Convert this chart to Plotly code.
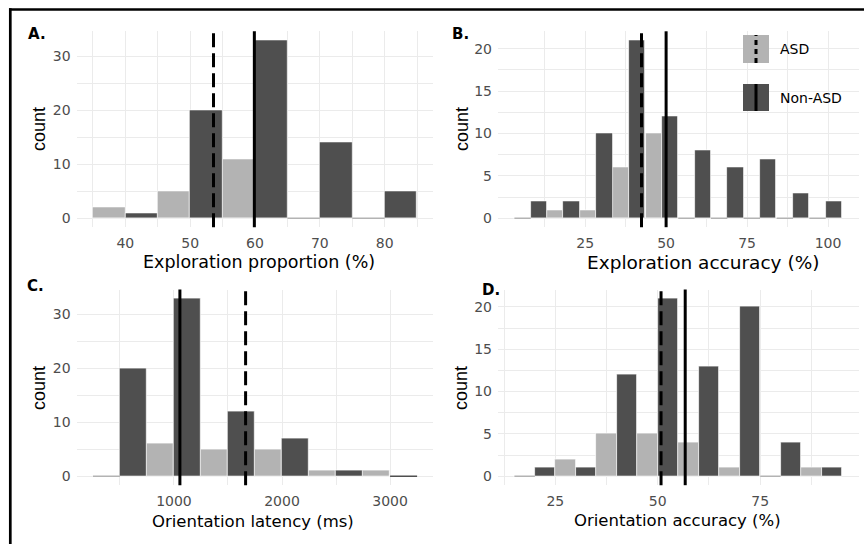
import plotly.graph_objects as go

W, H = 864, 544
FONT_H = "DejaVu Sans"
FONT_V = "Liberation Sans"
ASD_COLOR = "#B3B3B3"
NON_COLOR = "#4F4F4F"
GRID = "#EBEBEB"
TICK_COLOR = "#4D4D4D"

# ---------------- data ----------------
groups = ["ASD", "Non-ASD"]

A_centers = [40, 50, 60, 70, 80]
A_width = 10
A_asd = [2, 5, 11, 0, 0]
A_non = [1, 20, 33, 14, 5]
A_mean_asd = 53.6
A_mean_non = 59.9
A_xticks = [40, 50, 60, 70, 80]
A_xminor = [35, 45, 55, 65, 75, 85]
A_yticks = [0, 10, 20, 30]
A_yminor = [5, 15, 25]

B_centers = [8.2, 18.3, 28.4, 38.5, 48.7, 58.8, 68.9, 79.0, 89.2, 99.3]
B_width = 10.12
B_asd = [0, 1, 1, 6, 10, 0, 0, 0, 0, 0]
B_non = [2, 2, 10, 21, 12, 8, 6, 7, 3, 2]
B_mean_asd = 42.4
B_mean_non = 50.0
B_xticks = [25, 50, 75, 100]
B_xminor = [12.5, 37.5, 62.5, 87.5]
B_yticks = [0, 5, 10, 15, 20]
B_yminor = [2.5, 7.5, 12.5, 17.5]

C_centers = [500, 1000, 1500, 2000, 2500, 3000]
C_width = 500
C_asd = [0, 6, 5, 5, 1, 1]
C_non = [20, 33, 12, 7, 1, 0]
C_mean_asd = 1663
C_mean_non = 1055
C_xticks = [1000, 2000, 3000]
C_xminor = [500, 1500, 2500]
C_yticks = [0, 10, 20, 30]
C_yminor = [5, 15, 25]

D_centers = [20, 30, 40, 50, 60, 70, 80, 90]
D_width = 10
D_asd = [0, 2, 5, 5, 4, 1, 0, 1]
D_non = [1, 1, 12, 21, 13, 20, 4, 1]
D_mean_asd = 50.8
D_mean_non = 56.7
D_xticks = [25, 50, 75]
D_xminor = [12.5, 37.5, 62.5, 87.5]
D_yticks = [0, 5, 10, 15, 20]
D_yminor = [2.5, 7.5, 12.5, 17.5]

panel_labels = ["A.", "B.", "C.", "D."]
x_titles = ["Exploration proportion (%)", "Exploration accuracy (%)",
            "Orientation latency (ms)", "Orientation accuracy (%)"]
y_title = "count"

# ---------------- layout geometry (pixels) ----------------
def px(x):
    return x / W

def py(y):
    return 1 - y / H

XDOM = [(76.7, 433.3), (498.0, 858.5), (76.7, 433.3), (498.0, 858.5)]
YDOM = [(31.3, 227.2), (31.3, 227.2), (289.5, 485.2), (289.5, 485.2)]
LABEL_POS = [(28, 34), (452, 34), (27, 286), (482, 290)]
XTITLE_POS = [(259, 262), (703, 262), (253, 521), (677, 520)]
XTITLE_SIZE = [17.5, 18.5, 16.5, 16.5]
YTITLE_POS = [(39, 129), (462, 129), (39, 388), (461, 388)]

panels = [
    (A_centers, A_width, A_asd, A_non, A_mean_asd, A_mean_non, A_xticks, A_xminor, A_yticks, A_yminor),
    (B_centers, B_width, B_asd, B_non, B_mean_asd, B_mean_non, B_xticks, B_xminor, B_yticks, B_yminor),
    (C_centers, C_width, C_asd, C_non, C_mean_asd, C_mean_non, C_xticks, C_xminor, C_yticks, C_yminor),
    (D_centers, D_width, D_asd, D_non, D_mean_asd, D_mean_non, D_xticks, D_xminor, D_yticks, D_yminor),
]

fig = go.Figure()
shapes = []
annotations = []
layout_axes = {}

for i, (cen, w, asd, non, m_asd, m_non, xt, xm, yt, ym) in enumerate(panels):
    n = i + 1
    xa = "x" if n == 1 else f"x{n}"
    ya = "y" if n == 1 else f"y{n}"
    # dodged bars
    for vals, col, off in ((asd, ASD_COLOR, -0.25), (non, NON_COLOR, 0.25)):
        fig.add_trace(go.Bar(
            x=[c + off * w for c in cen], y=vals, width=[w / 2] * len(cen),
            marker=dict(color=col, line=dict(color="rgba(255,255,255,0.85)", width=0.8)),
            xaxis=xa, yaxis=ya, showlegend=False, hoverinfo="x+y"))
        # zero-count bins drawn as flat outlines
        zx, zy = [], []
        for c, v in zip(cen, vals):
            if v == 0:
                left = c + off * w - w / 4
                zx += [left, left + w / 2, None]
                zy += [0, 0, None]
        if zx:
            fig.add_trace(go.Scatter(x=zx, y=zy, mode="lines",
                                     line=dict(color=col, width=1.6),
                                     xaxis=xa, yaxis=ya, showlegend=False,
                                     hoverinfo="skip"))
    # mean lines
    shapes.append(dict(type="line", xref=xa, yref=f"{ya} domain", x0=m_asd, x1=m_asd,
                       y0=0, y1=1, line=dict(color="black", width=3, dash="14px,6px")))
    shapes.append(dict(type="line", xref=xa, yref=f"{ya} domain", x0=m_non, x1=m_non,
                       y0=0, y1=1, line=dict(color="black", width=3)))

    lo = cen[0] - w / 2
    hi = cen[-1] + w / 2
    span = hi - lo
    ymax = max(max(asd), max(non))
    key_x = "xaxis" if n == 1 else f"xaxis{n}"
    key_y = "yaxis" if n == 1 else f"yaxis{n}"
    layout_axes[key_x] = dict(
        domain=[px(XDOM[i][0]), px(XDOM[i][1])],
        anchor=ya, range=[lo - 0.05 * span, hi + 0.05 * span],
        tickvals=xt, showgrid=True, gridcolor=GRID, gridwidth=1.1,
        minor=dict(tickvals=xm, showgrid=True, gridcolor=GRID, gridwidth=0.6),
        zeroline=False, showline=False, ticks="",
        tickfont=dict(family=FONT_H, size=14, color=TICK_COLOR),
        ticklabelstandoff=6,
    )
    layout_axes[key_y] = dict(
        domain=[py(YDOM[i][1]), py(YDOM[i][0])],
        anchor=xa, range=[-0.05 * ymax, 1.05 * ymax],
        tickvals=yt, showgrid=True, gridcolor=GRID, gridwidth=1.1,
        minor=dict(tickvals=ym, showgrid=True, gridcolor=GRID, gridwidth=0.6),
        zeroline=False, showline=False, ticks="",
        tickfont=dict(family=FONT_H, size=14, color=TICK_COLOR),
        ticklabelstandoff=5,
    )
    # panel label
    annotations.append(dict(text=f"<b>{panel_labels[i]}</b>", xref="paper", yref="paper",
                            x=px(LABEL_POS[i][0] - 2), y=py(LABEL_POS[i][1]),
                            xanchor="left", yanchor="middle", showarrow=False,
                            font=dict(family=FONT_H, size=15, color="black")))
    # x title
    annotations.append(dict(text=x_titles[i], xref="paper", yref="paper",
                            x=px(XTITLE_POS[i][0]), y=py(XTITLE_POS[i][1]),
                            xanchor="center", yanchor="middle", showarrow=False,
                            font=dict(family=FONT_H, size=XTITLE_SIZE[i], color="black")))
    # y title
    annotations.append(dict(text=y_title, xref="paper", yref="paper",
                            x=px(YTITLE_POS[i][0]), y=py(YTITLE_POS[i][1]),
                            xanchor="center", yanchor="middle", textangle=-90,
                            showarrow=False,
                            font=dict(family=FONT_V, size=18, color="black")))

# legend (inside panel B)
legend_keys = [(groups[0], ASD_COLOR, "5px,4px", 35, 63, 49),
               (groups[1], NON_COLOR, "solid", 84, 111, 98)]
for name, col, dash, y0, y1, ty in legend_keys:
    shapes.append(dict(type="rect", xref="paper", yref="paper",
                       x0=px(743), x1=px(769), y0=py(y1), y1=py(y0),
                       fillcolor=col, line=dict(width=0)))
    shapes.append(dict(type="line", xref="paper", yref="paper",
                       x0=px(756), x1=px(756), y0=py(y1), y1=py(y0),
                       line=dict(color="black", width=3, dash=dash)))
    annotations.append(dict(text=name, xref="paper", yref="paper",
                            x=px(778), y=py(ty), xanchor="left", yanchor="middle",
                            showarrow=False,
                            font=dict(family=FONT_H, size=14, color="black")))

# outer frame (top and left edges visible)
shapes.append(dict(type="line", xref="paper", yref="paper", x0=px(9), x1=1.01,
                   y0=py(9.5), y1=py(9.5), line=dict(color="black", width=2.6)))
shapes.append(dict(type="line", xref="paper", yref="paper", x0=px(10.3), x1=px(10.3),
                   y0=-0.01, y1=py(8.2), line=dict(color="black", width=2.7)))

fig.update_layout(
    width=W, height=H, margin=dict(l=0, r=0, t=0, b=0),
    paper_bgcolor="white", plot_bgcolor="white",
    barmode="overlay", bargap=0, showlegend=False,
    shapes=shapes, annotations=annotations,
    font=dict(family=FONT_H),
    **layout_axes,
)

fig.write_html("out.html")
